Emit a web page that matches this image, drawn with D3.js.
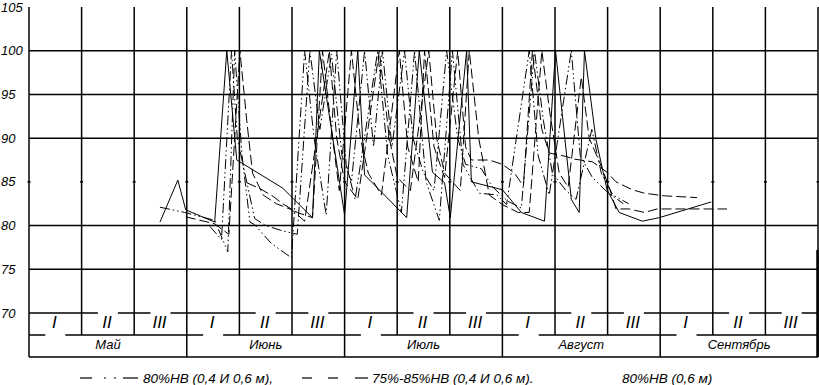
<!DOCTYPE html>
<html>
<head>
<meta charset="utf-8">
<script src="https://cdn.jsdelivr.net/npm/d3@7"></script>
<style>
    body { margin: 0; background: #fff; }
    svg { display: block; font-family: "Liberation Sans", Arial, sans-serif; font-style: italic; }
</style>
</head>
<body>
<svg id="chart" width="819" height="385"></svg>
<script>
// categories / ticks
const months = ["Май", "Июнь", "Июль", "Август", "Сентябрь"];
const decades = ["I", "II", "III"];
const yTicks = [105, 100, 95, 90, 85, 80, 75, 70];
const gridValues = [100, 95, 90, 80, 75];

// series: [day from 1 May, % НВ]
const solid06 = [
    [24.9, 80.4], [28.3, 85.2], [29.8, 81.8], [35.3, 80.4], [37.6, 100], [39.5, 87.5], [48.2, 84.3],
    [53.9, 80.9], [55.2, 100], [60.0, 81.2], [62.5, 100], [63.8, 85.8], [71.8, 80.9], [74.2, 100],
    [76.7, 86.1], [79.0, 84.9], [80.1, 80.9], [83.2, 100], [84.1, 85.0], [90.0, 84.1], [93.6, 81.5],
    [98.0, 80.5], [100.1, 100], [103.1, 83.0], [104.6, 81.5], [105.6, 100], [107.8, 89.8], [109.9, 84.1],
    [112.2, 81.5], [116.6, 80.5], [119.8, 80.9], [129.7, 82.7]
];
const dashDot04 = [
    [24.9, 82.1], [29.6, 81.5], [35.3, 80.6], [37.8, 77.0], [39.1, 100], [40.5, 88], [42.0, 80.4],
    [42.9, 80.1], [46.0, 78.0], [49.9, 76.3], [52.4, 100], [54.2, 90], [56.5, 81.2], [58.5, 100],
    [60.3, 87], [62.0, 83], [66.3, 100], [68.2, 88], [70.8, 81.5], [73.3, 100], [75.5, 85], [78.0, 80.6],
    [80.5, 100], [82.5, 87], [85.6, 83.7], [89.0, 83.5], [90.8, 82.4], [95.1, 100], [96.8, 88],
    [98.9, 83.5], [103.1, 100], [104.8, 88], [107.1, 85.5], [110.0, 83.8], [113.0, 82.5]
];
const dashDot06 = [
    [34.4, 79.9], [36.6, 78.4], [38.5, 100], [39.6, 90], [42.9, 80.8], [45.0, 80.0], [48.2, 79.4],
    [51.0, 79.0], [53.4, 100], [55.3, 91], [57.5, 99.6], [59.5, 88], [61.3, 85], [63.8, 100], [65.5, 89],
    [67.2, 100], [69.0, 89], [71.4, 100], [73.0, 90], [75.0, 86], [77.0, 84], [79.4, 100], [81.5, 90],
    [83.0, 87], [86.0, 86.5], [88.0, 84.5], [91.0, 82.8], [93.6, 82.0], [96.1, 100], [97.8, 92],
    [99.5, 86], [102.1, 84], [104.0, 83], [107.0, 91], [108.8, 86], [111.0, 83.5], [114.0, 82.5]
];
const dashed04 = [
    [41.4, 84.9], [44.0, 84.2], [46.5, 83.3], [48.2, 82.5], [51.0, 81.5], [53.9, 80.9], [55.8, 100],
    [57.5, 91], [59.0, 84], [61.3, 100], [63.0, 90], [64.5, 86], [67.0, 83.5], [70.4, 100], [72.0, 89],
    [74.0, 85], [75.2, 100], [77.0, 89], [79.0, 85.5], [81.5, 100], [83.0, 89], [84.1, 87.5], [87.5, 87.5],
    [90.0, 87.0], [92.3, 86.0], [94.0, 84.5], [95.7, 100], [97.5, 91], [98.9, 88.3], [102.1, 87.9],
    [103.7, 87.6], [107.1, 87.3], [109.9, 86.1], [111.6, 85.0], [114.7, 84.1], [117.0, 83.7],
    [120.8, 83.4], [127.0, 83.2]
];
const dashed06 = [
    [29.8, 81.0], [35.3, 80.2], [38.0, 79.0], [40.1, 100], [41.4, 92], [42.5, 86], [44.5, 83.5],
    [47.0, 82.5], [50.0, 81.8], [52.4, 80.5], [57.1, 100], [58.5, 90], [60.0, 85], [62.5, 83],
    [66.6, 100], [68.5, 90], [70.0, 85.5], [72.5, 84], [76.0, 100], [77.5, 90], [79.0, 86], [82.0, 84],
    [83.7, 100], [85.5, 90], [87.5, 83.5], [90.0, 82.4], [93.0, 81.5], [95.1, 81.5], [97.5, 100],
    [99.0, 93], [100.8, 86], [102.5, 84.4], [105.0, 97], [106.5, 90], [109.0, 86.5], [110.5, 84],
    [111.6, 81.9], [114.1, 81.9], [117.0, 81.5], [119.4, 81.9], [123.2, 81.9], [132.7, 81.9]
];

const svg = d3.select("#chart");

const x = d3.scaleLinear().domain([0, 150]).range([29, 818]);
const y = d3.scaleLinear().domain([70, 105]).range([313, 7]);

const rowMid = 335;
const rowBottom = 357;

// horizontal grid
svg.selectAll(".hgrid")
    .data(gridValues.concat([70]))
    .enter()
    .append("line")
    .attr("x1", x(0)).attr("x2", x(150))
    .attr("y1", d => y(d)).attr("y2", d => y(d))
    .attr("stroke", "black").attr("stroke-width", 1.5);

[rowMid, rowBottom].forEach(yy => {
    svg.append("line")
        .attr("x1", x(0)).attr("x2", x(150))
        .attr("y1", yy).attr("y2", yy)
        .attr("stroke", "black").attr("stroke-width", 1.5);
});

// vertical grid: decade lines stop at the decade row, month lines go to the bottom
svg.selectAll(".vgrid")
    .data(d3.range(16))
    .enter()
    .append("line")
    .attr("x1", k => x(k * 10)).attr("x2", k => x(k * 10))
    .attr("y1", y(105))
    .attr("y2", k => k % 3 === 0 ? rowBottom : rowMid)
    .attr("stroke", "black").attr("stroke-width", 1.5);

svg.append("line")
    .attr("x1", x(150) - 0.5).attr("x2", x(150) - 0.5)
    .attr("y1", 250).attr("y2", rowBottom)
    .attr("stroke", "black").attr("stroke-width", 2.5);

// small ticks on the 85 level (no full line there)
svg.selectAll(".tick85")
    .data(d3.range(16))
    .enter()
    .append("line")
    .attr("x1", k => x(k * 10) - 1.5).attr("x2", k => x(k * 10) + 1.5)
    .attr("y1", y(85)).attr("y2", y(85))
    .attr("stroke", "black").attr("stroke-width", 1.5);

// y labels
svg.selectAll(".ylab")
    .data(yTicks)
    .enter()
    .append("text")
    .attr("x", 1)
    .attr("y", d => y(d) + 4.5)
    .style("font-size", "13px")
    .text(d => d);

// decade labels with gaps cut in the row lines
const cols = d3.range(15).map(k => ({ k: k, label: decades[k % 3] }));
svg.selectAll(".gap")
    .data(cols)
    .enter()
    .append("rect")
    .attr("x", d => x(d.k * 10 + 5) - 10)
    .attr("y", d => d.k % 3 === 0 ? rowMid - 3 : y(70) - 3)
    .attr("width", 20).attr("height", 6)
    .attr("fill", "white");

svg.selectAll(".dlab")
    .data(cols)
    .enter()
    .append("text")
    .attr("x", d => x(d.k * 10 + 5) - 1)
    .attr("y", 328)
    .attr("text-anchor", "middle")
    .style("font-size", "17px")
    .text(d => d.label);

// month labels
svg.selectAll(".mlab")
    .data(months)
    .enter()
    .append("text")
    .attr("x", (d, i) => x(i * 30 + 15))
    .attr("y", 349)
    .attr("text-anchor", "middle")
    .style("font-size", "13px")
    .text(d => d);

// data lines
const line = d3.line().x(d => x(d[0])).y(d => y(d[1]));
const series = [
    { data: dashed06, dash: "10,4" },
    { data: dashed04, dash: "10,4" },
    { data: dashDot06, dash: "10,3,1.5,3,1.5,3" },
    { data: dashDot04, dash: "10,3,1.5,3,1.5,3" },
    { data: solid06, dash: null }
];
svg.selectAll(".series")
    .data(series)
    .enter()
    .append("path")
    .attr("d", d => line(d.data))
    .attr("fill", "none")
    .attr("stroke", "black")
    .attr("stroke-width", 1)
    .attr("stroke-dasharray", d => d.dash);

// legend
const legendY = 378;
const legendDashes = [[80, 92], [104, 106], [114, 116], [123, 138], [302, 312], [328, 338], [355, 368]];
svg.selectAll(".legdash")
    .data(legendDashes)
    .enter()
    .append("line")
    .attr("x1", d => d[0]).attr("x2", d => d[1])
    .attr("y1", legendY).attr("y2", legendY)
    .attr("stroke", "black").attr("stroke-width", 1.2);

const legendTexts = [
    { x: 143, t: "80%НВ (0,4 И 0,6 м)," },
    { x: 372, t: "75%-85%НВ (0,4 И 0,6 м)." },
    { x: 622, t: "80%НВ (0,6 м)" }
];
svg.selectAll(".legtext")
    .data(legendTexts)
    .enter()
    .append("text")
    .attr("x", d => d.x)
    .attr("y", 383)
    .style("font-size", "13.5px")
    .text(d => d.t);
</script>
</body>
</html>
